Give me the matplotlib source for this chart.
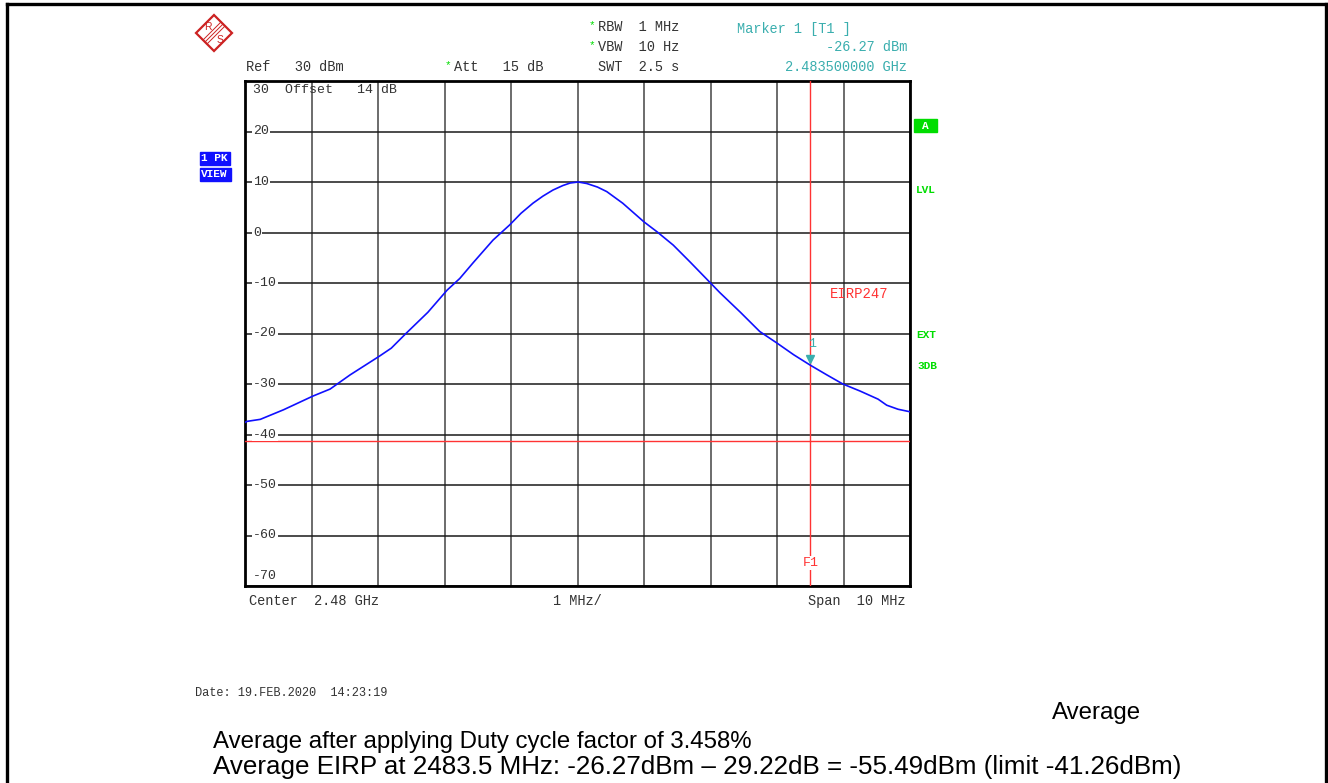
import matplotlib
matplotlib.use('Agg')
import matplotlib.pyplot as plt
from matplotlib.patches import Polygon, Rectangle
from matplotlib.lines import Line2D

# trace (MHz, dBm)
freq_mhz = [2475.00, 2475.03, 2475.23, 2475.58, 2476.02, 2476.28, 2476.58, 2477.02,
            2477.20, 2477.42, 2477.75, 2478.04, 2478.23, 2478.43, 2478.73, 2478.98,
            2479.15, 2479.33, 2479.48, 2479.63, 2479.78, 2479.89, 2480.01, 2480.14,
            2480.30, 2480.44, 2480.68, 2481.00, 2481.20, 2481.44, 2481.69, 2482.00,
            2482.14, 2482.45, 2482.74, 2483.00, 2483.25, 2483.50, 2483.75, 2483.99,
            2484.25, 2484.52, 2484.65, 2484.82, 2485.00]
level_dbm = [-37.6, -37.4, -37.0, -35.1, -32.4, -31.0, -28.2, -24.5,
             -22.9, -20.0, -15.8, -11.4, -9.1, -6.0, -1.5, 1.5,
             3.8, 5.8, 7.2, 8.4, 9.3, 9.8, 10.0, 9.7,
             9.0, 8.1, 5.8, 2.1, 0.1, -2.5, -5.8, -10.0,
             -11.9, -15.8, -19.6, -21.9, -24.2, -26.27, -28.2, -30.0,
             -31.4, -33.0, -34.2, -35.0, -35.5]

ref_level = 30
bottom_level = -70
y_labels = [20, 10, 0, -10, -20, -30, -40, -50, -60]
center_mhz = 2480
span_mhz = 10
marker_mhz = 2483.5
marker_dbm = -26.27
limit_dbm = -41.26

W, H = 1328, 783
MONO = 'Liberation Mono'
SANS = 'Liberation Sans'
TXT = '#333333'
TEAL = '#3aaeae'
RED = '#ff3333'
GREEN = '#00dd00'
BLUE = '#1010ff'


def fx(px):
    return px / W

def fy(py):
    return 1 - py / H

def ftext(px, py, s, **kw):
    kw.setdefault('family', MONO)
    kw.setdefault('fontsize', 9.8)
    kw.setdefault('color', TXT)
    kw.setdefault('va', 'center')
    fig.text(fx(px), fy(py), s, **kw)


fig = plt.figure(figsize=(W / 100, H / 100), dpi=100)

# page frame
for xs, ys in [((7, 7), (4, 783)), ((7, 1326), (4, 4)), ((1326, 1326), (4, 783))]:
    fig.add_artist(Line2D([fx(x) for x in xs], [fy(y) for y in ys],
                          transform=fig.transFigure, color='black', lw=2.4))

ax = fig.add_axes([fx(245), fy(586), fx(910) - fx(245), (586 - 81) / H])
ax.set_xlim(center_mhz - span_mhz / 2, center_mhz + span_mhz / 2)
ax.set_ylim(bottom_level, ref_level)
ax.set_xticks([center_mhz - span_mhz / 2 + i for i in range(11)])
ax.set_yticks(range(bottom_level, ref_level + 1, 10))
ax.tick_params(length=0, labelbottom=False, labelleft=False)
ax.xaxis.grid(True, color='#444444', lw=1.1)
ax.yaxis.grid(True, color='#1a1a1a', lw=1.1)
ax.set_axisbelow(True)
for sp in ax.spines.values():
    sp.set_linewidth(2.0)
    sp.set_color('black')

ax.plot(freq_mhz, level_dbm, color=BLUE, lw=1.2, zorder=4)
ax.axhline(limit_dbm, color=RED, lw=1.0, zorder=3)
ax.axvline(marker_mhz, color=RED, lw=1.0, zorder=3)
ax.plot([marker_mhz], [marker_dbm], marker='v', ms=6, color=TEAL, zorder=5,
        transform=ax.transData + matplotlib.transforms.ScaledTranslation(0, 6 / 100, fig.dpi_scale_trans))
ax.annotate('1', (marker_mhz, marker_dbm), xytext=(1, 15), textcoords='offset points',
            ha='center', va='center', color=TEAL, family=MONO, fontsize=9.5, zorder=6)

ytr = ax.get_yaxis_transform()
for v in y_labels:
    ax.text(0.012, v, str(v), transform=ytr, family=MONO, fontsize=9.5,
            color=TXT, va='center', ha='left', zorder=5,
            bbox=dict(facecolor='white', edgecolor='none', pad=0.5))
ax.text(0.012, bottom_level + 2, '-70', transform=ytr, family=MONO, fontsize=9.5,
        color=TXT, va='center', ha='left')
ax.text(0.012, ref_level - 1.8, '30  Offset   14 dB', transform=ytr, family=MONO,
        fontsize=9.5, color=TXT, va='center', ha='left', zorder=5)
ax.text(marker_mhz, bottom_level + 4.5, 'F1', family=MONO, fontsize=9.5, color=RED,
        ha='center', va='center', zorder=6,
        bbox=dict(facecolor='white', edgecolor='none', pad=0.8))
ftext(830, 294, 'EIRP247', color=RED, fontsize=10)

# header
ftext(246, 67, 'Ref   30 dBm')
ftext(445, 65, '*', color=GREEN, fontsize=8)
ftext(454, 67, 'Att   15 dB')
ftext(589, 25, '*', color=GREEN, fontsize=8)
ftext(598, 27, 'RBW  1 MHz')
ftext(589, 45, '*', color=GREEN, fontsize=8)
ftext(598, 47, 'VBW  10 Hz')
ftext(598, 67, 'SWT  2.5 s')
ftext(737, 29, 'Marker 1 [T1 ]', color=TEAL)
ftext(907, 47, '-26.27 dBm', color=TEAL, ha='right')
ftext(907, 67, '2.483500000 GHz', color=TEAL, ha='right')

# side badges
fig.add_artist(Rectangle((fx(200), fy(165)), fx(230) - fx(200), 13 / H,
                         transform=fig.transFigure, color=BLUE))
fig.add_artist(Rectangle((fx(200), fy(181)), fx(231) - fx(200), 13 / H,
                         transform=fig.transFigure, color=BLUE))
ftext(201, 158, '1 PK', color='white', fontsize=8, weight='bold')
ftext(201, 174, 'VIEW', color='white', fontsize=8, weight='bold')
fig.add_artist(Rectangle((fx(914), fy(132)), fx(937) - fx(914), 13 / H,
                         transform=fig.transFigure, color=GREEN))
ftext(925.5, 126, 'A', color='white', fontsize=8, weight='bold', ha='center')
ftext(916, 190, 'LVL', color=GREEN, fontsize=8, weight='bold')
ftext(916, 335, 'EXT', color=GREEN, fontsize=8, weight='bold')
ftext(917, 366, '3DB', color=GREEN, fontsize=8, weight='bold')

# R&S logo
cx, cy, r = 214, 33, 18
fig.add_artist(Polygon([(fx(cx), fy(cy - r)), (fx(cx + r), fy(cy)), (fx(cx), fy(cy + r)),
                        (fx(cx - r), fy(cy))], closed=True, fill=False, ec='#cc2222',
                       lw=1.6, transform=fig.transFigure))
for d in (-2, 0, 2):
    fig.add_artist(Line2D([fx(cx + 9 + d), fx(cx - 9 + d)], [fy(cy - 9 + d), fy(cy + 9 + d)],
                          transform=fig.transFigure, color='#cc2222', lw=0.7))
ftext(208, 27, 'R', family=SANS, color='#cc2222', fontsize=7.5, ha='center')
ftext(220, 40, 'S', family=SANS, color='#cc2222', fontsize=7.5, ha='center')

# footer of the screen
ftext(249, 601, 'Center  2.48 GHz')
ftext(577, 601, '1 MHz/', ha='center')
ftext(905, 601, 'Span  10 MHz', ha='right')
ftext(195, 693, 'Date: 19.FEB.2020  14:23:19', fontsize=8.6)

# report notes
ftext(1052, 719, 'Average', family=SANS, fontsize=17.3, color='black', va='baseline')
ftext(213, 748, 'Average after applying Duty cycle factor of 3.458%', family=SANS,
      fontsize=17.3, color='black', va='baseline')
ftext(213, 774, 'Average EIRP at 2483.5 MHz: -26.27dBm \u2013 29.22dB = -55.49dBm (limit -41.26dBm)',
      family=SANS, fontsize=18.7, color='black', va='baseline')

fig.savefig('out.png', dpi=100, facecolor='white')
